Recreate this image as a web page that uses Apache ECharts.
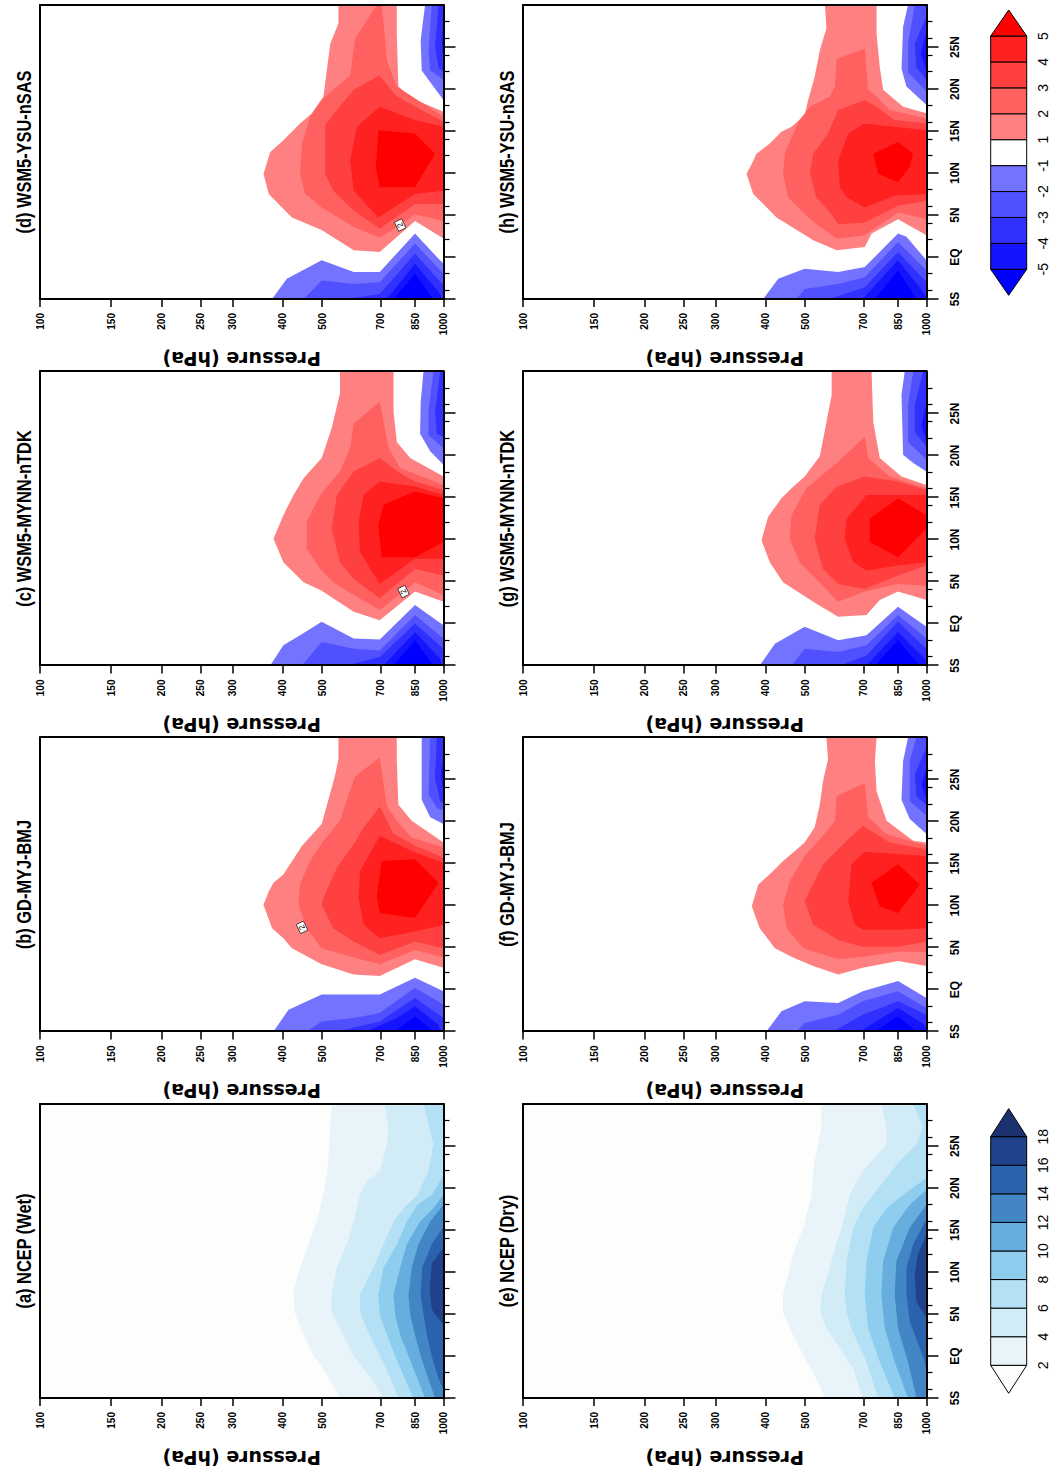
<!DOCTYPE html>
<html><head><meta charset="utf-8">
<script src="https://cdn.jsdelivr.net/npm/echarts@6/dist/echarts.min.js"></script>
<style>
html,body{margin:0;padding:0;overflow:hidden;background:#fff;width:1057px;height:1468px}
#wrap{position:absolute;left:0;top:0;width:1468px;height:1057px;transform-origin:0 0;transform:translate(0px,1468px) rotate(-90deg);}
#main{width:1468px;height:1057px}
</style></head>
<body><div id="wrap"><div id="main"></div></div>
<script>
const SANS = "'Liberation Sans',Arial,sans-serif";

// ---------- axes / text ----------
const pressureTicks = [100,150,200,250,300,400,500,700,850,1000];
const latMajor = [-5,0,5,10,15,20,25];
const latMajorLabels = ['5S','EQ','5N','10N','15N','20N','25N'];
const latMinor = [-4,-2,2,4,6,8,12,14,16,18,22,24,26,28];
const panelTitles = ['(a) NCEP (Wet)','(b) GD-MYJ-BMJ','(c) WSM5-MYNN-nTDK','(d) WSM5-YSU-nSAS',
                     '(e) NCEP (Dry)','(f) GD-MYJ-BMJ','(g) WSM5-MYNN-nTDK','(h) WSM5-YSU-nSAS'];

// ---------- colour scales ----------
const moistLevels = ['2','4','6','8','10','12','14','16','18'];
const moistColors = ['#fdfefc','#e8f4fa','#d1ebf7','#b3e0f5','#8ecdee','#66aedd','#4386c5','#2b62ad','#1f428a','#1c3170'];
const diffLevels = ['-5','-4','-3','-2','-1','1','2','3','4','5'];
const diffColors = ['#0000ff','#1414ff','#3030ff','#5050ff','#7373ff','#ffffff','#ff8080','#ff6060','#ff4040','#ff2020','#ff0000'];

// ---------- contour regions: [latitude, pressure hPa] ----------
// (a) NCEP wet, regions >= 2,4,...,16
const a_q2 = [[30,528],[27.1,524],[22,516],[19.2,503],[16,485],[13.3,463],[10.5,441],[7.7,425],[5.3,427],[2.9,446],[0.1,476],[-2.2,514],[-5,554],[-5,1000],[30,1000]];
const a_q4 = [[30,714],[27.1,731],[25.2,724],[22,695],[20.8,645],[19.2,621],[16,599],[13.3,576],[10.5,544],[7.3,528],[5.3,528],[2.9,560],[0,599],[-2.6,660],[-5,710],[-5,1000],[30,1000]];
const a_q6 = [[30,892],[25.2,944],[22,918],[19.2,862],[17.6,796],[16,752],[13.3,710],[10.5,670],[7.3,621],[5.3,621],[3.3,645],[0,695],[-2.6,738],[-5,773],[-5,1000],[30,1000]];
const a_q8 = [[21.5,1000],[19.2,935],[18,862],[16,811],[13.3,766],[10.5,710],[7.3,689],[4.9,695],[2.5,724],[0,759],[-2.6,800],[-5,842],[-5,1000]];
const a_q10 = [[19.2,1000],[17.6,944],[16,875],[13.3,811],[10.5,781],[7.3,752],[4.9,759],[2.5,781],[0,819],[-2.6,860],[-5,900],[-5,1000]];
const a_q12 = [[18,1000],[16,927],[13.3,867],[10.5,834],[7.3,819],[4.9,827],[2.5,850],[0,878],[-2.6,915],[-5,953],[-5,1000]];
const a_q14 = [[15.4,1000],[13.3,935],[10.5,885],[7.3,878],[4.9,892],[2.5,910],[0,935],[-2.6,970],[-4,1000]];
const a_q16 = [[12.9,1000],[11,935],[8,925],[5.5,935],[3.7,1000]];

// (e) NCEP dry
const e_q2 = [[30,546],[27.2,549],[25.2,538],[22.4,524],[19.2,519],[15.3,495],[12.1,467],[9.7,454],[7.3,441],[5.3,441],[3.3,458],[0.1,495],[-2.7,533],[-5,560],[-5,1000],[30,1000]];
const e_q4 = [[30,773],[27.2,796],[25.2,796],[22.0,695],[19.2,645],[15.3,616],[12.1,587],[9.7,570],[7.3,549],[5.3,546],[3.3,565],[0.9,610],[-1.5,658],[-5,695],[-5,1000],[30,1000]];
const e_q6 = [[30,927],[27.2,981],[25.2,944],[23.2,858],[19.2,738],[17.6,695],[15.3,658],[11.3,634],[7.3,627],[5.3,634],[3.3,651],[-0.7,710],[-5,759],[-5,1000],[30,1000]];
const e_q8 = [[21.2,1000],[19.2,875],[17.6,796],[15.3,738],[11.3,710],[7.3,703],[3.3,717],[-0.7,766],[-5,834],[-5,1000]];
const e_q10 = [[19.8,1000],[18,909],[15.3,827],[11.3,781],[7.3,773],[3.3,788],[-0.7,834],[-5,900],[-5,1000]];
const e_q12 = [[18,1000],[15.3,909],[11.3,842],[7.3,834],[3.3,850],[-0.7,900],[-5,944],[-5,1000]];
const e_q14 = [[16.3,1000],[13.3,927],[10.5,892],[7.3,892],[4.1,909],[0.9,963],[-0.7,990],[-2,1000]];
const e_q16 = [[14.5,1000],[12.1,953],[9.7,935],[6.5,944],[4.5,1000]];

// (b) GD-MYJ-BMJ wet: positive >=1..5, lower negative <=-1..-5, upper negative
const b_p1 = [[30,549],[27.4,549],[25.4,538],[19.7,499],[17.1,446],[13.7,401],[12.7,379],[11.7,369],[10.1,358],[7.3,376],[6.1,401],[4.9,421],[3.0,499],[1.8,599],[1.6,695],[3.6,850],[2.6,1000],[17.5,1000],[20.1,834],[22.0,773],[27.4,766],[30,766]];
const b_p2 = [[27.6,695],[25.4,604],[23.2,582],[20.1,554],[17.7,504],[15.3,467],[12.5,441],[10.1,437],[7.3,458],[4.9,499],[3.8,599],[3.0,695],[4.7,850],[3.8,1000],[16.9,1000],[18.1,834],[20.1,766],[21.8,724]];
const b_p3 = [[21.8,695],[19.3,634],[17.3,599],[14.5,544],[10.9,504],[10.1,499],[7.3,533],[5.7,599],[4.1,695],[5.7,850],[4.9,1000],[15.7,1000],[17.1,850],[18.5,752]];
const b_p4 = [[18.3,695],[14.1,621],[10.9,616],[7.7,634],[6.1,695],[6.9,850],[7.7,1000],[15.1,1000],[16.3,850]];
const b_p5 = [[15.3,703],[15.5,850],[12.7,972],[8.5,850],[9.1,695],[11.1,683]];
const b_n1 = [[-5,379],[-2.4,413],[-0.6,499],[-0.6,695],[1.4,850],[-0.2,1000],[-5,1000]];
const b_n2 = [[-5,458],[-3.8,499],[-3.4,599],[-2.8,695],[0.2,850],[-1.8,1000],[-5,1000]];
const b_n3 = [[-5,544],[-3.8,695],[-1.0,850],[-3.4,1000],[-5,1000]];
const b_n4 = [[-5,645],[-3.4,766],[-2.0,850],[-4.2,972],[-5,981]];
const b_n5 = [[-5,759],[-3.2,850],[-5,944]];
const b_u1 = [[30,883],[22.6,883],[20.5,927],[19.7,1000],[30,1000]];
const b_u2 = [[30,927],[23.2,918],[21.6,963],[21.3,1000],[30,1000]];
const b_u3 = [[30,963],[25.2,953],[22.4,981],[22.2,1000],[30,1000]];
const b_u4 = [[28,1000],[25.6,985],[23.2,1000]];
const b_lbl = [7.4,446];

// (c) WSM5-MYNN-nTDK wet
const c_p1 = [[30,554],[27.4,554],[23.2,528],[19.7,499],[17.3,450],[15.3,425],[12.9,401],[10.1,379],[7.3,401],[4.9,450],[3.9,499],[1.4,599],[0.4,695],[3.8,850],[2.6,1000],[17.5,1000],[19.7,827],[21.6,766],[25.2,752],[30,752]];
const c_p2 = [[26.4,695],[23.8,599],[20.9,587],[18.1,554],[15.3,495],[12.1,458],[8.9,458],[6.5,495],[4.9,533],[3.4,599],[1.6,695],[3.8,796],[4.9,850],[3.4,1000],[16.5,1000],[18.5,781],[20.9,731]];
const c_p3 = [[19.7,695],[18.1,599],[15.3,544],[11.3,528],[7.3,554],[5.3,599],[3.0,695],[6.5,850],[5.7,1000],[15.9,1000],[16.9,850],[17.9,781]];
const c_p4 = [[16.9,695],[15.3,634],[12.1,616],[8.5,621],[4.7,695],[7.7,850],[7.7,1000],[15.3,1000],[16.3,850]];
const c_p5 = [[14.1,710],[15.7,850],[14.9,1000],[9.7,1000],[7.9,850],[7.9,703],[11.7,689]];
const c_n1 = [[-5,372],[-2.6,401],[-1.4,441],[0.2,499],[-1.8,599],[-1.9,695],[2.2,850],[-0.2,1000],[-5,1000]];
const c_n2 = [[-5,446],[-2.2,499],[-3.0,599],[-3.2,695],[1.0,850],[-1.8,1000],[-5,1000]];
const c_n3 = [[-5,576],[-4.0,695],[0.0,850],[-3.0,1000],[-5,1000]];
const c_n4 = [[-5,710],[-1.0,850],[-4.2,981],[-5,990]];
const c_n5 = [[-5,752],[-2.0,850],[-5,944]];
const c_u1 = [[30,892],[26.4,878],[22.6,875],[20.5,927],[18.9,1000],[30,1000]];
const c_u2 = [[30,944],[25.2,918],[22.4,918],[20.9,1000],[30,1000]];
const c_u3 = [[30,981],[25.2,953],[22.6,963],[22.2,1000],[30,1000]];
const c_lbl = [3.8,796];

// (d) WSM5-YSU-nSAS wet
const d_p1 = [[30,549],[27.8,549],[25.4,524],[19.1,504],[17.1,472],[15.9,441],[13.9,401],[12.5,372],[9.9,358],[7.5,369],[6.1,394],[4.7,421],[3.2,499],[0.8,599],[0.6,695],[4.3,850],[2.2,1000],[17.3,1000],[18.9,834],[20.3,773],[26.6,766],[30,766]];
const d_p2 = [[30,683],[26.0,604],[21.6,587],[19.9,533],[18.7,499],[16.7,467],[13.5,446],[9.9,441],[7.5,454],[5.9,499],[3.6,599],[2.3,695],[3.8,781],[5.1,850],[4.3,1000],[16.7,1000],[20.3,766],[23.4,724],[30,703]];
const d_p3 = [[21.6,695],[19.9,599],[17.5,544],[15.7,509],[9.9,509],[7.9,533],[5.5,599],[3.4,695],[6.3,850],[6.3,1000],[16.1,1000],[19.1,766]];
const d_p4 = [[17.9,695],[15.5,610],[11.5,587],[7.9,599],[4.7,689],[7.5,850],[7.9,1000],[15.5,1000],[16.3,850]];
const d_p5 = [[15.1,689],[14.7,850],[12.3,953],[8.3,850],[8.3,695],[10.7,680]];
const d_n1 = [[-5,376],[-2.6,409],[-0.4,499],[-1.8,599],[-1.8,695],[2.8,850],[0.0,963],[-0.8,1000],[-5,1000]];
const d_n2 = [[-5,450],[-2.8,499],[-3.2,599],[-3.0,695],[1.6,850],[-2.0,1000],[-5,1000]];
const d_n3 = [[-5,576],[-4.4,695],[0.4,850],[-3.4,1000],[-5,1000]];
const d_n4 = [[-5,724],[-0.8,850],[-4.4,981],[-5,990]];
const d_n5 = [[-5,752],[-2.0,850],[-5,944]];
const d_u1 = [[30,900],[25.8,878],[22.2,883],[20.3,944],[18.7,1000],[30,1000]];
const d_u2 = [[30,935],[24.6,918],[22.2,927],[21.1,1000],[30,1000]];
const d_u3 = [[30,972],[25.0,953],[22.6,972],[22.0,1000],[30,1000]];
const d_u4 = [[28.2,1000],[25.8,990],[23.4,1000]];
const d_lbl = [3.8,781];

// (f) GD-MYJ-BMJ dry
const f_p1 = [[30,565],[27.4,570],[24.8,554],[22.0,544],[19.3,528],[17.5,499],[16.5,472],[15.3,441],[14.1,417],[12.5,383],[9.9,369],[7.3,386],[4.9,421],[3.8,467],[2.8,524],[1.8,604],[2.6,695],[3.4,850],[2.8,1000],[17.5,1000],[17.7,927],[20.1,796],[23.6,752],[27.2,745],[30,752]];
const f_p2 = [[24.6,703],[23.0,599],[20.1,593],[18.1,549],[15.9,499],[12.9,458],[10.1,441],[7.3,450],[4.9,495],[3.6,604],[3.9,695],[4.5,850],[4.5,1000],[17.1,1000],[18.5,796],[20.5,717]];
const f_p3 = [[19.5,695],[17.7,634],[14.9,554],[10.5,499],[7.7,524],[5.9,604],[5.1,695],[5.1,850],[5.7,1000],[16.7,1000],[17.5,811]];
const f_p4 = [[16.4,703],[14.9,651],[10.5,640],[7.7,664],[7.1,695],[7.1,850],[7.3,1000],[15.9,1000]];
const f_p5 = [[14.9,850],[12.5,963],[9.1,850],[9.9,766],[12.7,731]];
const f_n1 = [[-5,401],[-2.6,437],[-1.4,499],[-1.6,604],[-0.2,695],[1.0,850],[-1.0,1000],[-5,1000]];
const f_n2 = [[-5,476],[-4.0,499],[-3.0,604],[-1.4,695],[-0.2,850],[-2.2,1000],[-5,1000]];
const f_n3 = [[-5,587],[-3.0,695],[-1.4,850],[-3.0,1000],[-5,1000]];
const f_n4 = [[-5,683],[-2.2,850],[-4.2,990],[-5,1000]];
const f_n5 = [[-5,745],[-3.2,850],[-5,944]];
const f_u1 = [[30,900],[27.2,875],[22.6,867],[20.3,909],[18.5,1000],[30,1000]];
const f_u2 = [[30,944],[27.2,909],[22.4,909],[20.7,1000],[30,1000]];
const f_u3 = [[28.8,1000],[25.6,935],[23.0,944],[22.0,1000]];
const f_u4 = [[26.4,1000],[24.4,972],[22.6,1000]];

// (g) WSM5-MYNN-nTDK dry
const g_p1 = [[30,582],[27.2,582],[24.0,565],[19.9,544],[17.5,499],[16.1,463],[14.9,437],[12.7,405],[9.9,390],[7.3,409],[4.9,441],[2.6,524],[0.8,604],[1.0,710],[2.8,766],[3.8,850],[2.8,1000],[16.5,1000],[17.5,867],[19.7,766],[24.0,738],[30,731]];
const g_p2 = [[22.2,703],[19.1,599],[18.1,565],[16.1,504],[12.9,463],[10.1,458],[7.3,485],[5.3,533],[2.6,604],[3.8,703],[4.7,850],[4.5,1000],[16.1,1000],[17.5,811],[19.7,717]];
const g_p3 = [[17.5,703],[16.3,599],[14.1,544],[10.1,528],[6.5,554],[4.7,604],[4.1,703],[5.7,850],[6.9,1000],[15.9,1000],[16.9,850]];
const g_p4 = [[15.3,710],[12.5,634],[10.1,627],[7.3,658],[6.3,710],[6.9,850],[7.3,1000],[15.3,1000]];
const g_p5 = [[12.5,724],[14.9,850],[12.9,1000],[11.3,1000],[7.9,850],[9.7,724]];
const g_n1 = [[-5,386],[-2.4,421],[-0.4,499],[-2.0,604],[-1.4,710],[2.0,850],[-0.4,1000],[-5,1000]];
const g_n2 = [[-5,463],[-3.0,499],[-3.4,604],[-2.6,710],[1.0,850],[-1.8,1000],[-5,1000]];
const g_n3 = [[-5,610],[-3.8,710],[0.2,850],[-3.0,1000],[-5,1000]];
const g_n4 = [[-5,710],[-1.0,850],[-4.2,990],[-5,1000]];
const g_n5 = [[-5,745],[-2.0,850],[-5,963]];
const g_u1 = [[30,883],[27.2,867],[20.1,875],[19.1,927],[18.1,1000],[30,1000]];
const g_u2 = [[30,927],[26.0,900],[21.6,900],[19.5,1000],[30,1000]];
const g_u3 = [[30,981],[26.0,935],[22.8,935],[21.1,1000],[30,1000]];
const g_u4 = [[26.4,1000],[23.6,972],[21.6,1000]];

// (h) WSM5-YSU-nSAS dry
const h_p1 = [[30,560],[27.2,565],[24.6,544],[21.4,528],[18.7,509],[16.9,499],[15.5,463],[14.9,437],[13.5,409],[12.3,379],[11.1,369],[9.9,358],[7.5,372],[6.3,394],[4.7,425],[3.6,463],[2.0,524],[0.8,599],[1.2,703],[2.8,731],[4.5,850],[2.6,1000],[17.1,1000],[17.9,875],[19.9,781],[22.6,766],[26.6,752],[30,752]];
const h_p2 = [[24.8,703],[23.6,599],[20.3,593],[19.1,576],[17.9,514],[16.3,485],[12.5,446],[9.9,441],[7.1,454],[5.1,499],[3.9,533],[2.2,599],[2.6,703],[5.3,850],[4.5,1000],[16.5,1000],[17.5,811],[19.1,752],[19.9,717]];
const h_p3 = [[18.7,703],[17.5,604],[14.7,570],[12.3,524],[9.9,514],[7.1,533],[5.1,582],[3.9,604],[4.1,703],[6.1,850],[6.7,1000],[15.9,1000],[16.3,834],[17.9,752]];
const h_p4 = [[15.9,703],[14.7,640],[11.5,604],[8.3,610],[7.1,634],[5.9,703],[7.3,834],[7.5,1000],[15.1,1000]];
const h_p5 = [[13.7,850],[12.3,927],[10.7,909],[8.9,850],[9.9,759],[12.3,738]];
const h_n1 = [[-5,394],[-2.6,429],[-1.4,499],[-1.8,604],[-1.2,703],[2.8,850],[2.4,892],[-0.4,1000],[-5,1000]];
const h_n2 = [[-5,476],[-3.8,499],[-3.2,604],[-2.4,703],[1.8,850],[-1.6,1000],[-5,1000]];
const h_n3 = [[-5,576],[-3.6,703],[0.6,850],[-3.0,1000],[-5,1000]];
const h_n4 = [[-5,695],[-0.4,850],[-4.4,990],[-5,1000]];
const h_n5 = [[-5,745],[-1.6,850],[-5,944]];
const h_u1 = [[30,900],[27.4,875],[22.4,867],[20.3,892],[18.1,1000],[30,1000]];
const h_u2 = [[30,935],[25.4,900],[22.0,900],[19.7,1000],[30,1000]];
const h_u3 = [[28.6,1000],[25.4,935],[22.6,944],[21.1,1000]];
const h_u4 = [[26.6,1000],[24.2,967],[22.2,1000]];

// ---------- build ----------
function moistPolys(list){ return list.map((p,i)=>[p, moistColors[i+1]]); }
function diffPolys(pos, lowNeg, upNeg){
  const out = [];
  lowNeg.forEach((p,i)=>out.push([p, diffColors[4-i]]));
  upNeg.forEach((p,i)=>out.push([p, diffColors[4-i]]));
  pos.forEach((p,i)=>out.push([p, diffColors[6+i]]));
  return out;
}
const panels = [
  {bg: moistColors[0], polys: moistPolys([a_q2,a_q4,a_q6,a_q8,a_q10,a_q12,a_q14,a_q16])},
  {bg:'#ffffff', polys: diffPolys([b_p1,b_p2,b_p3,b_p4,b_p5],[b_n1,b_n2,b_n3,b_n4,b_n5],[b_u1,b_u2,b_u3,b_u4]), lbl: b_lbl},
  {bg:'#ffffff', polys: diffPolys([c_p1,c_p2,c_p3,c_p4,c_p5],[c_n1,c_n2,c_n3,c_n4,c_n5],[c_u1,c_u2,c_u3]), lbl: c_lbl},
  {bg:'#ffffff', polys: diffPolys([d_p1,d_p2,d_p3,d_p4,d_p5],[d_n1,d_n2,d_n3,d_n4,d_n5],[d_u1,d_u2,d_u3,d_u4]), lbl: d_lbl},
  {bg: moistColors[0], polys: moistPolys([e_q2,e_q4,e_q6,e_q8,e_q10,e_q12,e_q14,e_q16])},
  {bg:'#ffffff', polys: diffPolys([f_p1,f_p2,f_p3,f_p4,f_p5],[f_n1,f_n2,f_n3,f_n4,f_n5],[f_u1,f_u2,f_u3,f_u4])},
  {bg:'#ffffff', polys: diffPolys([g_p1,g_p2,g_p3,g_p4,g_p5],[g_n1,g_n2,g_n3,g_n4,g_n5],[g_u1,g_u2,g_u3,g_u4])},
  {bg:'#ffffff', polys: diffPolys([h_p1,h_p2,h_p3,h_p4,h_p5],[h_n1,h_n2,h_n3,h_n4,h_n5],[h_u1,h_u2,h_u3,h_u4])}
];

const gridLefts = [70, 436.5, 802.5, 1169];
const gridTops = [40, 523];
const GW = 294, GH = 403.5;
const logTicks = pressureTicks.map(p => Math.log10(p));
const black = {color:'#000', width:2};

const grid = [], xAxis = [], yAxis = [], series = [], graphic = [];
panels.forEach((pan, i) => {
  const row = i < 4 ? 0 : 1, col = i % 4;
  const left = gridLefts[col], top = gridTops[row];
  grid.push({left, top, width: GW, height: GH, show: true, backgroundColor: pan.bg, borderWidth: 0});
  // x: latitude
  xAxis.push({gridIndex:i, type:'value', min:-5, max:30, position:'bottom', z:10,
    axisLine:{show:true, onZero:false, lineStyle:black},
    axisTick:{show:true, customValues: latMajor, length:12, lineStyle:{color:'#000', width:1.5}},
    axisLabel:{show: row===1, customValues: latMajor, margin:22, fontSize:12, fontWeight:'bold', fontFamily:SANS, color:'#000',
      formatter: v => { const k = latMajor.findIndex(t => Math.abs(t - v) < 1e-6); return k >= 0 ? latMajorLabels[k] : ''; }},
    splitLine:{show:false}});
  xAxis.push({gridIndex:i, type:'value', min:-5, max:30, position:'bottom', z:10,
    axisLine:{show:false}, axisTick:{show:true, customValues: latMinor, length:6, lineStyle:{color:'#000', width:1.2}},
    axisLabel:{show:false}, splitLine:{show:false}});
  xAxis.push({gridIndex:i, type:'value', min:-5, max:30, position:'top', z:10,
    axisLine:{show:true, onZero:false, lineStyle:black}, axisTick:{show:false}, axisLabel:{show:false}, splitLine:{show:false}});
  // y: pressure (log10)
  yAxis.push({gridIndex:i, type:'value', min:2, max:3, inverse:true, position:'left', z:10,
    axisLine:{show:true, onZero:false, lineStyle:black},
    axisTick:{show:true, customValues: logTicks, length:8, lineStyle:{color:'#000', width:1.5}},
    axisLabel:{show:true, customValues: logTicks, margin:14, fontSize:10, fontWeight:'bold', fontFamily:SANS, color:'#000',
      formatter: v => String(Math.round(Math.pow(10, v)))},
    name:'Pressure (hPa)', nameLocation:'middle', nameGap:50,
    nameTextStyle:{fontSize:19, fontWeight:'bold', fontFamily:"'DejaVu Sans',sans-serif", color:'#000'},
    splitLine:{show:false}});
  yAxis.push({gridIndex:i, type:'value', min:2, max:3, inverse:true, position:'right', z:10,
    axisLine:{show:true, onZero:false, lineStyle:black}, axisTick:{show:false}, axisLabel:{show:false}, splitLine:{show:false}});

  const polys = pan.polys;
  series.push({type:'custom', coordinateSystem:'cartesian2d', xAxisIndex:i*3, yAxisIndex:i*2, clip:true, silent:true,
    data: polys.map(pp => [pp[0][0][0], Math.log10(pp[0][0][1])]),
    renderItem: (params, api) => {
      const pp = polys[params.dataIndex];
      return {type:'polygon', z2: params.dataIndex,
        shape:{points: pp[0].map(q => api.coord([q[0], Math.log10(q[1])]))},
        style:{fill: pp[1]}};
    }});
  if (pan.lbl) {
    const L = pan.lbl;
    series.push({type:'custom', coordinateSystem:'cartesian2d', xAxisIndex:i*3, yAxisIndex:i*2, silent:true, z:5,
      data:[[L[0], Math.log10(L[1])]],
      renderItem: (params, api) => {
        const c = api.coord([L[0], Math.log10(L[1])]);
        return {type:'group', x:c[0], y:c[1], rotation:0.45, children:[
          {type:'rect', shape:{x:-5, y:-4, width:10, height:8}, style:{fill:'#fff', stroke:'#000', lineWidth:0.6}},
          {type:'text', style:{text:'2', x:0, y:0, align:'center', verticalAlign:'middle', fontSize:8, fontFamily:SANS, fill:'#000'}}
        ]};
      }});
  }
  graphic.push({type:'text', x: left + GW/2, y: row === 0 ? 24 : 507, scaleX: 0.82,
    style:{text: panelTitles[i], x:0, y:0, align:'center', verticalAlign:'middle', fontSize:20, fontWeight:'bold', fontFamily:SANS, fill:'#000'}});
});

function colorbar(x0, boxW, colors, labels, tip) {
  const yTop = 990.7, h = 36, n = labels.length - 1;
  const st = c => ({fill:c, stroke:'#000', lineWidth:1});
  graphic.push({type:'polygon', shape:{points:[[x0, yTop],[x0, yTop+h],[x0-tip, yTop+h/2]]}, style: st(colors[0])});
  for (let k = 0; k < n; k++) {
    graphic.push({type:'rect', shape:{x: x0 + k*boxW, y: yTop, width: boxW, height: h}, style: st(colors[k+1])});
  }
  const xe = x0 + n*boxW;
  graphic.push({type:'polygon', shape:{points:[[xe, yTop],[xe, yTop+h],[xe+tip, yTop+h/2]]}, style: st(colors[n+1])});
  labels.forEach((t, k) => graphic.push({type:'text', x: x0 + k*boxW, y: 1043,
    style:{text: t, x:0, y:0, align:'center', verticalAlign:'middle', fontSize:14, fontFamily:SANS, fill:'#000'}}));
}
colorbar(102.7, 28.58, moistColors, moistLevels, 28);
colorbar(1198.7, 25.92, diffColors, diffLevels, 26);

const chart = echarts.init(document.getElementById('main'), null, {renderer:'svg', width:1468, height:1057});
chart.setOption({animation:false, backgroundColor:'#ffffff', grid, xAxis, yAxis, series, graphic});
</script>
</body></html>
